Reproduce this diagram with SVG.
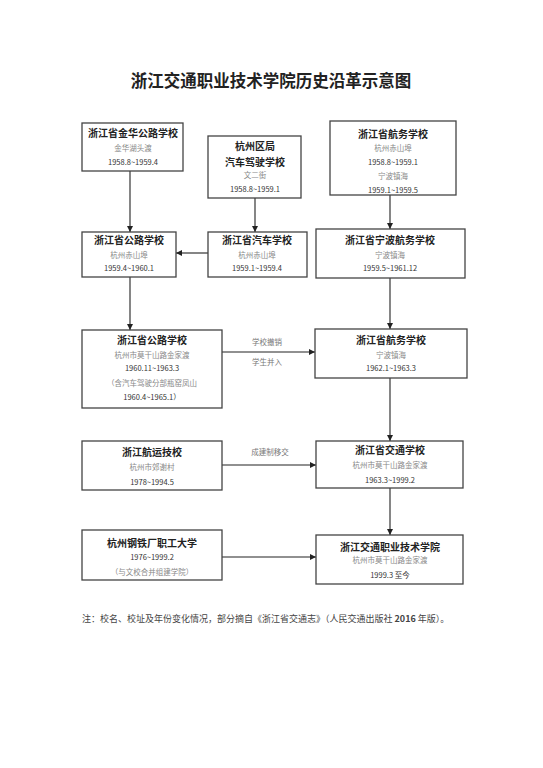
<svg xmlns="http://www.w3.org/2000/svg" width="543" height="768" viewBox="0 0 543 768">
<style>
text{font-family:"Noto Sans CJK SC","Liberation Sans",sans-serif;text-anchor:middle;}
.t{font-size:16.5px;font-weight:700;fill:#222;}
.n{font-size:10px;font-weight:700;fill:#222;}
.s{font-size:7.5px;fill:#888;}
.d{font-size:7.5px;fill:#333;}
.l{font-size:7.5px;fill:#777;}
.f{font-size:9px;fill:#444;text-anchor:start;}
rect{fill:#fff;stroke:#444;stroke-width:1.3;}
.c line{stroke:#222;stroke-width:1.1;marker-end:url(#a);}
</style>
<defs>
<marker id="a" viewBox="0 0 10 10" refX="10" refY="5" markerWidth="6" markerHeight="6" markerUnits="userSpaceOnUse" orient="auto">
<path d="M0,0 L10,5 L0,10 z" fill="#222"/>
</marker>
</defs>
<rect x="0" y="0" width="543" height="768" style="fill:#fff;stroke:none"/>
<text class="t" x="271" y="87">浙江交通职业技术学院历史沿革示意图</text>

<g class="c">
<line x1="130" y1="171" x2="130" y2="232"/>
<line x1="255" y1="198" x2="255" y2="232"/>
<line x1="390" y1="195" x2="390" y2="229"/>
<line x1="208" y1="253" x2="176" y2="253"/>
<line x1="130" y1="277" x2="130" y2="330"/>
<line x1="390" y1="278" x2="390" y2="329"/>
<line x1="222" y1="352" x2="315" y2="352"/>
<line x1="390" y1="378" x2="390" y2="441"/>
<line x1="222" y1="465" x2="316" y2="465"/>
<line x1="390" y1="488" x2="390" y2="535"/>
<line x1="222" y1="557" x2="316" y2="557"/>
<text class="l" x="267" y="345">学校撤销</text>
<text class="l" x="267" y="365">学生并入</text>
<text class="l" x="270" y="455">成建制移交</text>
</g>

<g id="jinhua">
<rect x="82" y="123" width="101" height="48"/>
<text class="n" x="133" y="137">浙江省金华公路学校</text>
<text class="s" x="133" y="151">金华湖头渡</text>
<text class="d" x="133" y="165">1958.8~1959.4</text>
</g>
<g id="hzjq">
<rect x="208" y="136" width="93" height="62"/>
<text class="n" x="255" y="150">杭州区局</text>
<text class="n" x="255" y="166">汽车驾驶学校</text>
<text class="s" x="255" y="178">文二街</text>
<text class="d" x="255" y="192">1958.8~1959.1</text>
</g>
<g id="hangwu1">
<rect x="330" y="121" width="126" height="74"/>
<text class="n" x="393" y="138">浙江省航务学校</text>
<text class="s" x="393" y="151">杭州赤山埠</text>
<text class="d" x="393" y="165">1958.8~1959.1</text>
<text class="s" x="393" y="179">宁波镇海</text>
<text class="d" x="393" y="193">1959.1~1959.5</text>
</g>
<g id="gonglu1">
<rect x="82" y="232" width="94" height="45"/>
<text class="n" x="129" y="244">浙江省公路学校</text>
<text class="s" x="129" y="258">杭州赤山埠</text>
<text class="d" x="129" y="271">1959.4~1960.1</text>
</g>
<g id="qiche">
<rect x="208" y="232" width="99" height="45"/>
<text class="n" x="257" y="244">浙江省汽车学校</text>
<text class="s" x="257" y="258">杭州赤山埠</text>
<text class="d" x="257" y="271">1959.1~1959.4</text>
</g>
<g id="ningbo">
<rect x="316" y="229" width="149" height="49"/>
<text class="n" x="390" y="244">浙江省宁波航务学校</text>
<text class="s" x="390" y="258">宁波镇海</text>
<text class="d" x="390" y="271">1959.5~1961.12</text>
</g>
<g id="gonglu2">
<rect x="82" y="330" width="140" height="78"/>
<text class="n" x="152" y="344">浙江省公路学校</text>
<text class="s" x="152" y="358">杭州市莫干山路金家渡</text>
<text class="d" x="152" y="371">1960.11~1963.3</text>
<text class="s" x="152" y="386">（含汽车驾驶分部瓶窑凤山</text>
<text class="d" x="152" y="400">1960.4~1965.1）</text>
</g>
<g id="hangwu2">
<rect x="315" y="329" width="152" height="49"/>
<text class="n" x="391" y="344">浙江省航务学校</text>
<text class="s" x="391" y="358">宁波镇海</text>
<text class="d" x="391" y="371">1962.1~1963.3</text>
</g>
<g id="hangyun">
<rect x="82" y="441" width="140" height="49"/>
<text class="n" x="152" y="456">浙江航运技校</text>
<text class="s" x="152" y="470">杭州市郊谢村</text>
<text class="d" x="152" y="485">1978~1994.5</text>
</g>
<g id="jiaotong">
<rect x="316" y="441" width="147" height="47"/>
<text class="n" x="390" y="454">浙江省交通学校</text>
<text class="s" x="390" y="468">杭州市莫干山路金家渡</text>
<text class="d" x="390" y="483">1963.3~1999.2</text>
</g>
<g id="gangtie">
<rect x="82" y="530" width="140" height="50"/>
<text class="n" x="152" y="547">杭州钢铁厂职工大学</text>
<text class="d" x="152" y="560">1976~1999.2</text>
<text class="s" x="152" y="575">（与文校合并组建学院）</text>
</g>
<g id="xueyuan">
<rect x="316" y="535" width="147" height="49"/>
<text class="n" x="390" y="551">浙江交通职业技术学院</text>
<text class="s" x="390" y="563">杭州市莫干山路金家渡</text>
<text class="d" x="390" y="578">1999.3 至今</text>
</g>
<text class="f" x="82" y="622">注：校名、校址及年份变化情况，部分摘自《浙江省交通志》（人民交通出版社 <tspan font-weight="700">2016</tspan> 年版）。</text>
</svg>
